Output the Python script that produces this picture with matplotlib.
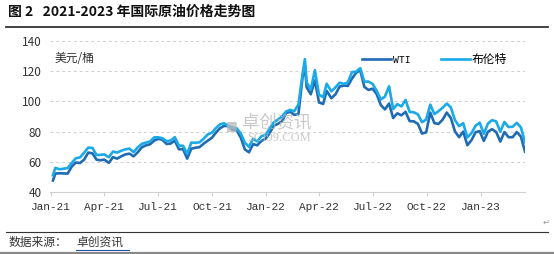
import matplotlib
matplotlib.use("Agg")
import matplotlib.pyplot as plt
import matplotlib.dates as mdates
import numpy as np
import pandas as pd

plt.rcParams['font.family'] = ['Noto Sans CJK SC', 'DejaVu Sans']

# weekly closes (USD/bbl)
dates = [
    "2021-01-04", "2021-01-08", "2021-01-15", "2021-01-22", "2021-01-29", "2021-02-05", "2021-02-12",
    "2021-02-19", "2021-02-26", "2021-03-05", "2021-03-12", "2021-03-19", "2021-03-26", "2021-04-01",
    "2021-04-09", "2021-04-16", "2021-04-23", "2021-04-30", "2021-05-07", "2021-05-14", "2021-05-21",
    "2021-05-28", "2021-06-04", "2021-06-11", "2021-06-18", "2021-06-25", "2021-07-02", "2021-07-09",
    "2021-07-16", "2021-07-23", "2021-07-30", "2021-08-06", "2021-08-13", "2021-08-20", "2021-08-27",
    "2021-09-03", "2021-09-10", "2021-09-17", "2021-09-24", "2021-10-01", "2021-10-08", "2021-10-15",
    "2021-10-22", "2021-10-29", "2021-11-05", "2021-11-12", "2021-11-19", "2021-11-26", "2021-12-03",
    "2021-12-10", "2021-12-17", "2021-12-24", "2021-12-31",
    "2022-01-07", "2022-01-14", "2022-01-21", "2022-01-28", "2022-02-04", "2022-02-11", "2022-02-18",
    "2022-02-25", "2022-03-04", "2022-03-08", "2022-03-11", "2022-03-18", "2022-03-25", "2022-04-01",
    "2022-04-08", "2022-04-14", "2022-04-22", "2022-04-29", "2022-05-06", "2022-05-13", "2022-05-20",
    "2022-05-27", "2022-06-03", "2022-06-10", "2022-06-17", "2022-06-24", "2022-07-01", "2022-07-08",
    "2022-07-15", "2022-07-22", "2022-07-29", "2022-08-05", "2022-08-12", "2022-08-19", "2022-08-26",
    "2022-09-02", "2022-09-09", "2022-09-16", "2022-09-23", "2022-09-30", "2022-10-07", "2022-10-14",
    "2022-10-21", "2022-10-28", "2022-11-04", "2022-11-11", "2022-11-18", "2022-11-25", "2022-12-02",
    "2022-12-09", "2022-12-16", "2022-12-23", "2022-12-30",
    "2023-01-06", "2023-01-13", "2023-01-20", "2023-01-27", "2023-02-03", "2023-02-10", "2023-02-17",
    "2023-02-24", "2023-03-03", "2023-03-10", "2023-03-17",
]

wti = [
    47.6, 52.2, 52.4, 52.3, 52.2, 56.9, 59.5,
    59.2, 61.5, 66.1, 65.6, 61.4, 61.0, 61.5,
    59.3, 63.1, 62.1, 63.6, 64.9, 65.4, 63.6,
    66.3, 69.6, 70.9, 71.6, 74.1, 75.2, 74.6,
    71.8, 72.1, 74.0, 68.3, 68.4, 62.1, 68.7,
    69.3, 69.7, 72.0, 74.0, 75.9, 79.4, 82.3,
    83.8, 83.6, 81.3, 80.8, 76.1, 68.2, 66.3,
    71.7, 70.9, 73.8, 75.2,
    78.9, 83.8, 85.1, 86.8, 92.3, 93.1, 91.1,
    91.6, 115.7, 123.7, 109.3, 104.7, 113.9, 99.3,
    98.3, 107.0, 102.1, 104.7, 109.8, 110.5, 110.3,
    115.1, 118.9, 120.7, 109.6, 107.6, 108.4, 104.8,
    97.6, 94.7, 98.6, 89.0, 92.1, 90.8, 93.1,
    86.9, 86.8, 85.1, 78.7, 79.5, 92.6, 85.6,
    85.1, 87.9, 92.6, 89.0, 80.1, 76.3, 80.0,
    71.0, 74.3, 79.6, 80.3,
    73.8, 79.9, 81.6, 79.7, 73.4, 79.7, 76.3,
    76.3, 79.7, 76.7, 66.7,
]

brent = [
    51.1, 56.0, 55.1, 55.4, 55.9, 59.3, 62.4,
    62.9, 66.1, 69.4, 69.2, 64.5, 64.6, 64.9,
    63.0, 66.8, 66.1, 67.3, 68.3, 68.7, 66.4,
    69.6, 71.9, 72.7, 73.5, 76.2, 76.2, 75.6,
    73.6, 74.1, 76.3, 70.7, 70.6, 65.2, 72.7,
    72.6, 72.9, 75.3, 78.1, 79.3, 82.4, 84.9,
    85.5, 83.7, 82.7, 82.2, 78.9, 72.7, 69.9,
    75.2, 73.5, 76.9, 77.8,
    81.8, 86.1, 87.9, 90.0, 93.3, 94.4, 93.5,
    97.9, 118.1, 128.0, 112.7, 107.9, 120.7, 104.4,
    102.8, 111.7, 106.7, 109.3, 112.4, 111.6, 112.6,
    119.4, 119.7, 122.0, 113.1, 113.1, 111.6, 107.0,
    101.2, 103.2, 110.0, 94.9, 98.2, 96.7, 101.0,
    93.0, 92.8, 91.4, 86.2, 88.0, 97.9, 91.6,
    93.5, 95.8, 98.6, 96.0, 87.6, 83.6, 85.6,
    76.1, 79.0, 83.9, 85.9,
    78.6, 85.3, 87.6, 86.7, 79.9, 86.4, 83.0,
    83.2, 85.8, 82.8, 73.0,
]

x = pd.to_datetime(dates)

fig = plt.figure(figsize=(5.54, 2.54), dpi=100)
ax = fig.add_axes([0.0903, 0.2441, 0.8574, 0.5945])

ax.plot(x, wti, color='#1f6cb4', lw=1.9, label='WTI', zorder=3)
ax.plot(x, brent, color='#1ba9e8', lw=1.9, label='布伦特', zorder=3)

ax.set_ylim(40, 140)
ax.set_yticks([40, 60, 80, 100, 120, 140])
ax.set_xlim(pd.Timestamp("2020-12-30"), pd.Timestamp("2023-03-17"))
ax.xaxis.set_major_locator(mdates.MonthLocator(bymonth=[1, 4, 7, 10]))
ax.xaxis.set_major_formatter(mdates.DateFormatter('%b-%y'))

ax.grid(axis='y', color='#d0d0d0', ls=(0, (3, 3)), lw=0.7)
for s in ['top', 'right', 'left']:
    ax.spines[s].set_visible(False)
ax.spines['bottom'].set_color('#d0d0d0')
ax.tick_params(axis='y', length=0, labelsize=8.5, colors='#333333', pad=6)
ax.tick_params(axis='x', length=3, color='#d0d0d0', labelsize=8, colors='#333333', pad=4)
for lb in ax.get_xticklabels():
    lb.set_fontfamily('Liberation Mono')

ax.text(0.01, 0.86, '美元/桶', transform=ax.transAxes, fontsize=8.5, color='#333333')

leg = ax.legend(loc='upper right', bbox_to_anchor=(0.985, 0.99), ncol=2, frameon=False,
                fontsize=8.5, handlelength=2.4, columnspacing=2.6, handletextpad=0.2)
leg.get_texts()[0].set_fontfamily('Liberation Mono')
leg.get_texts()[0].set_fontsize(7)

# watermark
ax.text(0.405, 0.46, '卓创资讯', transform=ax.transAxes, fontsize=12.5, color='#b8b8b8',
        alpha=0.75, ha='left', va='center', zorder=4)
ax.text(0.415, 0.36, 'SCI99.COM', transform=ax.transAxes, fontsize=9, color='#b8b8b8',
        alpha=0.75, ha='left', va='center', fontfamily='Liberation Serif', zorder=4)
ax.text(0.382, 0.44, '■', transform=ax.transAxes, fontsize=9, color='#b8b8b8',
        alpha=0.75, ha='center', va='center', fontfamily='DejaVu Sans', zorder=4)

# page decorations
fig.text(0.015, 0.955, '图 2   2021-2023 年国际原油价格走势图', fontsize=10, fontweight='bold',
         color='#111111', va='center')
fig.lines.append(plt.Line2D([0.01, 0.99], [0.893, 0.893], transform=fig.transFigure,
                            color='#333333', lw=1.3))
fig.text(0.985, 0.125, '↵', fontsize=6, color='#999999', ha='center', va='center',
         fontfamily='DejaVu Sans')
fig.lines.append(plt.Line2D([0.01, 0.99], [0.085, 0.085], transform=fig.transFigure,
                            color='#333333', lw=0.8))
fig.text(0.015, 0.045, '数据来源：', fontsize=8.5, color='#333333', va='center')
fig.text(0.138, 0.045, '卓创资讯', fontsize=8.5, color='#333333', va='center')
fig.lines.append(plt.Line2D([0.138, 0.232], [0.015, 0.015], transform=fig.transFigure,
                            color='#2255aa', lw=0.8))
fig.lines.append(plt.Line2D([0.0, 1.0], [0.005, 0.005], transform=fig.transFigure,
                            color='#888888', lw=1.6))

fig.savefig('out.png', dpi=100)
